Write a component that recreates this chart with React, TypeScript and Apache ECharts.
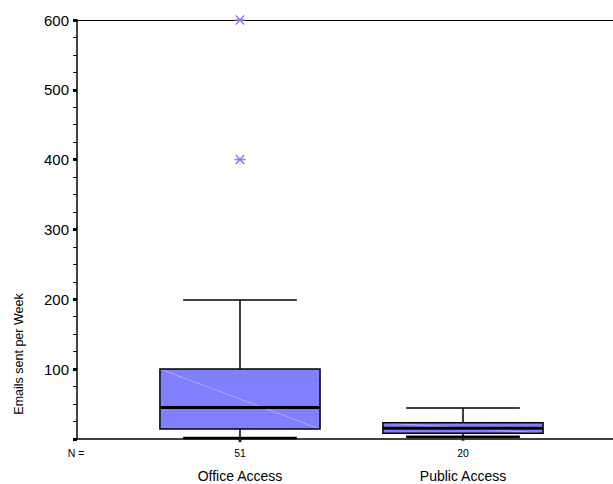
import React, { useEffect, useRef } from "react";
import * as echarts from "echarts";

const categories = ["Office Access", "Public Access"];
const counts = [51, 20];
const whiskerLow = [1, 3];
const quartile1 = [14, 8];
const medians = [45, 15];
const quartile3 = [100, 23];
const whiskerHigh = [199, 44];
const outliers: [number, number][] = [
  [1, 400],
  [1, 600],
];
const yTicks = [0, 100, 200, 300, 400, 500, 600];

const FONT = "Liberation Sans, Arial, sans-serif";
const BOX_FILL = "#8080ff";
const X_MIN = 0.2691;
const X_MAX = 2.6727;

export default function App() {
  const ref = useRef<HTMLDivElement>(null);
  useEffect(() => {
    if (!ref.current) return;
    const chart = echarts.init(ref.current, undefined, { renderer: "svg" });
    const boxData = categories.map((c, i) => [
      i + 1,
      whiskerLow[i],
      quartile1[i],
      medians[i],
      quartile3[i],
      whiskerHigh[i],
      counts[i],
      i,
    ]);
    const plainX = {
      type: "value",
      min: X_MIN,
      max: X_MAX,
      axisTick: { show: false },
      axisLabel: { show: false },
      splitLine: { show: false },
    };
    chart.setOption({
      animation: false,
      backgroundColor: "#fff",
      grid: {
        left: 77,
        top: 20,
        right: 0,
        height: 418.8,
      },
      xAxis: [
        {
          ...plainX,
          position: "bottom",
          axisLine: { show: true, onZero: false, lineStyle: { color: "#000", width: 1.5 } },
        },
        {
          ...plainX,
          position: "top",
          axisLine: { show: true, onZero: false, lineStyle: { color: "#000", width: 1 } },
        },
      ],
      yAxis: {
        type: "value",
        min: yTicks[0],
        max: yTicks[yTicks.length - 1],
        interval: 100,
        axisLine: { show: true, lineStyle: { color: "#000", width: 1.5 } },
        axisTick: {
          show: true,
          inside: false,
          length: 4,
          lineStyle: { color: "#000", width: 3 },
        },
        minorTick: {
          show: true,
          splitNumber: 4,
          length: 4,
          lineStyle: { color: "#000", width: 1 },
        },
        axisLabel: {
          color: "#000",
          fontFamily: FONT,
          fontSize: 15,
          margin: 8,
          formatter: (v: number) => (v === 0 ? "" : String(v)),
        },
        splitLine: { show: false },
      },
      graphic: [
        {
          type: "text",
          x: 19,
          y: 354,
          rotation: Math.PI / 2,
          style: {
            text: "Emails sent per Week",
            fill: "#000",
            font: `12.5px ${FONT}`,
            align: "center",
            verticalAlign: "middle",
          },
        },
        {
          type: "text",
          x: 76,
          y: 453,
          style: {
            text: "N =",
            fill: "#000",
            font: `10.5px ${FONT}`,
            align: "center",
            verticalAlign: "middle",
          },
        },
      ],
      series: [
        {
          type: "custom",
          data: boxData,
          clip: false,
          renderItem: (params: any, api: any) => {
            const x = api.value(0);
            const low = api.coord([x, api.value(1)]);
            const q1 = api.coord([x, api.value(2)]);
            const med = api.coord([x, api.value(3)]);
            const q3 = api.coord([x, api.value(4)]);
            const high = api.coord([x, api.value(5)]);
            const n = api.value(6);
            const idx = api.value(7);
            const unit = api.size([1, 0])[0];
            const half = unit * 0.359;
            const capHalf = unit * 0.255;
            const cx = q1[0];
            const children: any[] = [
              {
                type: "line",
                shape: { x1: cx, y1: q3[1], x2: cx, y2: high[1] },
                style: { stroke: "#000", lineWidth: 1.5 },
              },
              {
                type: "line",
                shape: { x1: cx - capHalf, y1: high[1], x2: cx + capHalf, y2: high[1] },
                style: { stroke: "#000", lineWidth: 1.5 },
              },
              {
                type: "line",
                shape: { x1: cx, y1: q1[1], x2: cx, y2: low[1] },
                style: { stroke: "#000", lineWidth: 1.5 },
              },
              {
                type: "line",
                shape: { x1: cx - capHalf, y1: low[1], x2: cx + capHalf, y2: low[1] },
                style: { stroke: "#000", lineWidth: 2.5 },
              },
              {
                type: "rect",
                shape: { x: cx - half, y: q3[1], width: half * 2, height: q1[1] - q3[1] },
                style: { fill: BOX_FILL, stroke: "none" },
              },
              {
                type: "line",
                shape: { x1: cx - half, y1: q3[1], x2: cx + half, y2: q1[1] },
                style: { stroke: "rgba(255,255,255,0.35)", lineWidth: 1 },
              },
              {
                type: "rect",
                shape: { x: cx - half, y: q3[1], width: half * 2, height: q1[1] - q3[1] },
                style: { fill: "none", stroke: "#000", lineWidth: 1.5 },
              },
              {
                type: "line",
                shape: { x1: cx - half, y1: med[1], x2: cx + half, y2: med[1] },
                style: { stroke: "#000", lineWidth: 3 },
              },
              {
                type: "rect",
                shape: { x: cx - 1.5, y: low[1] + 1, width: 3, height: 3 },
                style: { fill: "#222" },
              },
              {
                type: "text",
                style: {
                  text: String(n),
                  x: cx,
                  y: 453,
                  fill: "#000",
                  font: `10.5px ${FONT}`,
                  align: "center",
                  verticalAlign: "middle",
                },
              },
              {
                type: "text",
                style: {
                  text: categories[idx],
                  x: cx,
                  y: 476,
                  fill: "#000",
                  font: `14px ${FONT}`,
                  align: "center",
                  verticalAlign: "middle",
                },
              },
            ];
            return { type: "group", children };
          },
          z: 3,
        },
        {
          type: "custom",
          data: outliers,
          clip: false,
          renderItem: (params: any, api: any) => {
            const p = api.coord([api.value(0), api.value(1)]);
            const r = 5.5;
            const ry = 4.5;
            const st = { stroke: "#7f7fff", lineWidth: 1.5 };
            return {
              type: "group",
              children: [
                { type: "line", shape: { x1: p[0] - r, y1: p[1], x2: p[0] + r, y2: p[1] }, style: st },
                { type: "line", shape: { x1: p[0] - r * 0.75, y1: p[1] - ry, x2: p[0] + r * 0.75, y2: p[1] + ry }, style: st },
                { type: "line", shape: { x1: p[0] - r * 0.75, y1: p[1] + ry, x2: p[0] + r * 0.75, y2: p[1] - ry }, style: st },
              ],
            };
          },
          z: 4,
        },
      ],
    });
    return () => chart.dispose();
  }, []);
  return (
    <div
      ref={ref}
      style={{ position: "absolute", left: 0, top: 0, width: 613, height: 484 }}
    />
  );
}
